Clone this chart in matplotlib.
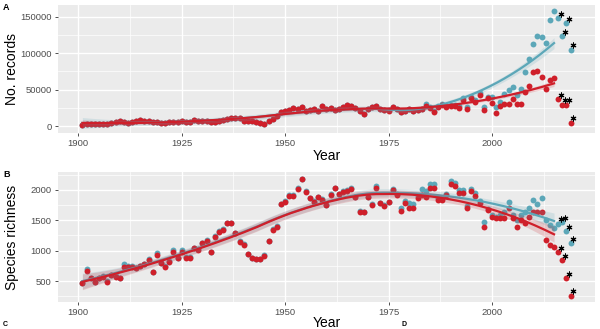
import numpy as np
import matplotlib
matplotlib.use("Agg")
import matplotlib.pyplot as plt
from matplotlib.ticker import MultipleLocator, FixedLocator
import matplotlib.transforms as mtransforms

plt.rcParams['font.family'] = ['Liberation Sans', 'DejaVu Sans']

years = list(range(1901, 2020))
starred_years = [2016, 2017, 2018, 2019]

# Panel A: number of records (red = filtered, teal = all)
records_red = [
    2000, 3000, 2500, 3000, 2800, 3500, 3000, 4000, 5000, 6500,
    5000, 4500, 6000, 7500, 8500, 7000, 6500, 5500, 5000, 4500,
    4000, 5500, 5000, 6000, 6500, 5500, 5000, 9000, 7500, 7000,
    7500, 6000, 5000, 6500, 8000, 9500, 10500, 11500, 11000, 7500,
    7000, 6500, 5500, 4500, 3000, 7500, 10000, 14000, 19000, 21000,
    22500, 25000, 24000, 25500, 20000, 22000, 24000, 21000, 27000, 23000,
    25000, 22000, 24000, 26000, 29000, 27000, 25000, 21000, 17000, 23000,
    26000, 28000, 24000, 22000, 20000, 26000, 24000, 19000, 20000, 23000,
    21000, 22000, 24000, 28000, 25000, 19500, 26000, 29000, 26000, 28000,
    27000, 25000, 36000, 24000, 38000, 33000, 43000, 22000, 39000, 31000,
    18500, 27500, 30000, 30500, 37500, 30000, 30500, 47000, 55000, 73500,
    75000, 67000, 50500, 62500, 65500, 37000, 29000, 29000, 4500,
]
records_teal = [
    2000, 3000, 2500, 3000, 2800, 3500, 3000, 4000, 5000, 6500,
    5000, 4500, 6000, 7500, 8500, 7000, 6500, 5500, 5000, 4500,
    4000, 5500, 5000, 6000, 6500, 5500, 5000, 9000, 7500, 7000,
    7500, 6000, 5000, 6500, 8000, 9500, 10500, 11500, 11000, 7500,
    7000, 6500, 5500, 4500, 3000, 7500, 10000, 14000, 19000, 21000,
    22500, 25000, 24000, 25500, 20000, 22000, 24000, 21000, 27000, 23000,
    25000, 22000, 24000, 26000, 29000, 27000, 25000, 21000, 17000, 23000,
    26000, 28000, 24000, 22000, 21500, 26000, 24000, 19000, 20000, 23000,
    21000, 22000, 24000, 30000, 25500, 20000, 27000, 30000, 27000, 29500,
    29000, 27000, 38000, 26000, 40000, 36000, 45000, 25700, 40300, 39400,
    25700, 33000, 44000, 49600, 53300, 42000, 50500, 74800, 91800, 112500,
    124000, 122000, 113900, 146000, 157400, 148000, 123000, 141000, 104600,
]

# Panel B: species richness
rich_red = [
    462, 665, 544, 478, 544, 571, 489, 599, 571, 544,
    736, 736, 736, 709, 747, 775, 846, 643, 929, 791,
    736, 819, 973, 874, 973, 885, 885, 1039, 1011, 1121,
    1159, 973, 1231, 1313, 1341, 1451, 1451, 1286, 1148, 1093,
    940, 874, 863, 863, 918, 1159, 1341, 1396, 1764, 1808,
    1907, 1907, 2016, 2180, 1973, 1863, 1800, 1879, 1835, 1753,
    1918, 2027, 1929, 1973, 1989, 2016, 1879, 1643, 1632, 1879,
    1753, 2038, 1780, 1742, 1797, 2000, 1918, 1654, 1780, 1698,
    1709, 1874, 1918, 1890, 2027, 2038, 1835, 1835, 1918, 2094,
    2072, 1945, 1945, 1709, 1984, 1907, 1780, 1396, 1670, 1560,
    1533, 1544, 1544, 1709, 1544, 1396, 1505, 1451, 1549, 1643,
    1643, 1643, 1176, 1094, 1066, 973, 846, 545, 258,
]
rich_teal = [
    470, 700, 550, 485, 550, 580, 495, 605, 580, 550,
    775, 750, 745, 715, 755, 780, 855, 650, 960, 800,
    745, 830, 1010, 885, 1010, 895, 895, 1050, 1020, 1130,
    1170, 985, 1240, 1320, 1350, 1460, 1460, 1295, 1160, 1105,
    950, 885, 870, 870, 925, 1165, 1350, 1405, 1775, 1815,
    1915, 1915, 2025, 2185, 1980, 1870, 1810, 1885, 1845, 1760,
    1925, 2035, 1935, 1980, 1995, 2025, 1890, 1650, 1640, 1890,
    1765, 2060, 1790, 1750, 1805, 2010, 1925, 1700, 1820, 1780,
    1770, 1900, 2010, 1980, 2090, 2100, 1870, 1860, 1930, 2149,
    2111, 2000, 2000, 1730, 2016, 1945, 1819, 1467, 1687, 1588,
    1560, 1580, 1643, 1797, 1588, 1505, 1588, 1643, 1698, 1835,
    1764, 1874, 1500, 1420, 1380, 1440, 1470, 1320, 1120,
]

RED = '#CF1F2A'
TEAL = '#5CA7B8'


def loess(x, y, xs, span=0.75):
    x = np.asarray(x, float); y = np.asarray(y, float)
    n = len(x); q = int(np.floor(n * span))
    def row(x0):
        d = np.abs(x - x0)
        h = np.sort(d)[q - 1]
        w = np.clip(1 - (d / h) ** 3, 0, None) ** 3
        X = np.column_stack([np.ones(n), x - x0, (x - x0) ** 2])
        XtW = X.T * w
        return np.linalg.solve(XtW @ X, XtW)[0]
    L = np.array([row(v) for v in x])
    fitted = L @ y
    resid = y - fitted
    dof = n - np.trace(L)
    sigma = np.sqrt(np.sum(resid ** 2) / dof)
    Ls = np.array([row(v) for v in xs])
    fit = Ls @ y
    se = sigma * np.sqrt(np.sum(Ls ** 2, axis=1))
    return fit, se


W, H = 600, 329
fig = plt.figure(figsize=(W / 100, H / 100), dpi=100)
axA = fig.add_axes([58 / W, 1 - 133 / H, (595 - 58) / W, (133 - 5) / H])
axB = fig.add_axes([58 / W, 1 - 302 / H, (595 - 58) / W, (302 - 172) / H])

yrs = np.array(years)
fitmask = yrs <= 2015
xs = np.linspace(1901, 2015, 200)


def draw(ax, red, teal, ylim, ymajor, yminor, ylabel):
    red = np.array(red, float); teal = np.array(teal, float)
    ax.set_facecolor('#EBEBEB')
    ax.set_xlim(1895.1, 2024.9)
    ax.set_ylim(*ylim)
    ax.xaxis.set_major_locator(FixedLocator([1900, 1925, 1950, 1975, 2000]))
    ax.xaxis.set_minor_locator(FixedLocator([1912.5, 1937.5, 1962.5, 1987.5, 2012.5]))
    ax.yaxis.set_major_locator(MultipleLocator(ymajor))
    ax.yaxis.set_minor_locator(MultipleLocator(yminor))
    ax.grid(which='major', color='white', lw=1.0)
    ax.grid(which='minor', color='white', lw=0.5)
    ax.set_axisbelow(True)
    for s in ax.spines.values():
        s.set_visible(False)
    ax.tick_params(which='major', length=2.5, width=0.6, color='#333333',
                   labelsize=6.8, labelcolor='#4D4D4D', pad=2)
    ax.tick_params(which='minor', length=0)
    ax.set_xlabel('Year', fontsize=10)
    ax.set_ylabel(ylabel, fontsize=10)

    ax.scatter(yrs, teal, s=18, color=TEAL, lw=0, zorder=3)
    ax.scatter(yrs, red, s=18, color=RED, lw=0, zorder=4)

    for vals, col, z in ((teal, TEAL, 5), (red, RED, 6)):
        fit, se = loess(yrs[fitmask], vals[fitmask], xs)
        ax.fill_between(xs, fit - 1.98 * se, fit + 1.98 * se, color=col,
                        alpha=0.18, lw=0, zorder=z)
        ax.plot(xs, fit, color=col, lw=1.6, zorder=z + 0.5)

    off = mtransforms.offset_copy(ax.transData, fig=fig, x=2.5, y=4.5, units='dots')
    for vals in (teal, red):
        sx = [y for y in years if y in starred_years]
        sy = [v for y, v in zip(years, vals) if y in starred_years]
        ax.scatter(sx, sy, s=12, color='#8A8A8A', alpha=0.55, lw=0,
                   transform=off, zorder=8)
        ax.scatter(sx, sy, s=14, marker=(6, 2, 0), color='black', lw=0.7,
                   transform=off, zorder=9)


draw(axA, records_red, records_teal, (-9500, 166000), 50000, 25000, 'No. records')
draw(axB, rich_red, rich_teal, (155, 2295), 500, 250, 'Species richness')
axA.yaxis.set_label_coords(-0.072, 0.5)
axB.yaxis.set_label_coords(-0.072, 0.5)
axA.xaxis.set_label_coords(0.5, (133 - 149) / 128)
axB.xaxis.set_label_coords(0.5, (302 - 316) / 130)

fig.text(3 / W, 1 - 3 / H, 'A', fontsize=6.5, fontweight='bold', va='top', ha='left')
fig.text(3 / W, 1 - 170 / H, 'B', fontsize=6.5, fontweight='bold', va='top', ha='left')
fig.text(3 / W, 0.5 / H, 'C', fontsize=5, fontweight='bold', va='bottom', ha='left')
fig.text(402 / W, 0.5 / H, 'D', fontsize=5, fontweight='bold', va='bottom', ha='left')

fig.savefig('out.png', dpi=100, facecolor='white')
